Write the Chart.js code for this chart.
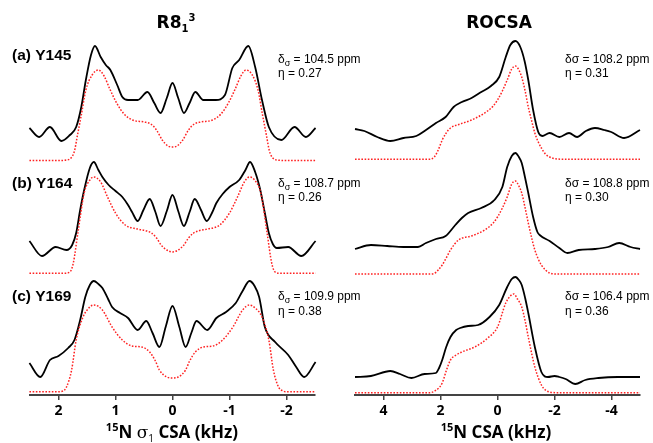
<!DOCTYPE html>
<html>
<head>
<meta charset="utf-8">
<script src="https://cdn.jsdelivr.net/npm/chart.js@4"></script>
<style>
  html, body { margin: 0; padding: 0; background: #fff; }
  #left { position: absolute; left: 0; top: 0; }
  #right { position: absolute; left: 330px; top: 0; }
</style>
</head>
<body>
<canvas id="left" width="400" height="443"></canvas>
<canvas id="right" width="323" height="443"></canvas>
<script>
// Labels and fitted parameters
const rowNames = ['(a) Y145', '(b) Y164', '(c) Y169'];
const r8Delta = [104.5, 108.7, 109.9];
const r8Eta = [0.27, 0.26, 0.38];
const rocsaDelta = [108.2, 108.8, 106.4];
const rocsaEta = [0.31, 0.30, 0.36];
const r8Ticks = [2, 1, 0, -1, -2];
const rocsaTicks = [4, 2, 0, -2, -4];

// Spectra as [kHz, intensity] - exp = black experimental, sim = red dotted fit
const r8ExpA = [[2.51,33],[2.34,24],[2.15,34],[1.95,20],[1.80,26],[1.69,34],[1.60,54],[1.52,81],[1.43,106],[1.36,115],[1.26,104],[1.17,96],[1.09,91],[0.97,76],[0.88,64],[0.78,61],[0.61,61],[0.44,69],[0.32,58],[0.21,48],[0.10,63],[0,78],[-0.10,63],[-0.20,48],[-0.30,58],[-0.40,69],[-0.54,61],[-0.76,61],[-0.92,66],[-1.05,93],[-1.17,101],[-1.33,115],[-1.45,94],[-1.57,61],[-1.69,34],[-1.91,21],[-2.14,34],[-2.34,24],[-2.51,33]];
const r8SimA = [[2.51,0.5],[2.0,0.5],[1.86,1],[1.78,3],[1.72,10],[1.67,25],[1.60,46],[1.52,71],[1.41,86],[1.30,91],[1.20,85],[1.10,72],[0.98,58],[0.85,47],[0.70,41],[0.50,39],[0.38,37],[0.28,31],[0.18,21],[0.08,15],[0,14],[-0.08,15],[-0.18,21],[-0.28,31],[-0.38,37],[-0.50,39],[-0.70,41],[-0.85,47],[-0.98,58],[-1.10,72],[-1.20,85],[-1.29,91],[-1.40,86],[-1.50,71],[-1.58,46],[-1.65,25],[-1.70,10],[-1.76,3],[-1.84,1],[-2.0,0.5],[-2.51,0.5]];
const r8ExpB = [[2.51,37],[2.29,22],[2.05,31],[1.86,28],[1.76,33],[1.69,45],[1.62,68],[1.55,88],[1.45,110],[1.38,116],[1.30,108],[1.23,101],[1.12,93],[1.00,87],[0.88,81],[0.78,73],[0.71,66],[0.61,57],[0.51,68],[0.40,79],[0.30,66],[0.21,52],[0.10,67],[0,83],[-0.10,67],[-0.20,52],[-0.30,66],[-0.39,79],[-0.50,68],[-0.60,57],[-0.70,66],[-0.77,75],[-0.88,84],[-1.00,91],[-1.17,98],[-1.28,108],[-1.36,116],[-1.45,106],[-1.54,88],[-1.62,65],[-1.69,45],[-1.76,34],[-1.83,30],[-2.03,31],[-2.26,22],[-2.51,37]];
const r8SimB = [[2.51,4.7],[1.90,4.7],[1.80,6],[1.74,15],[1.66,45],[1.55,85],[1.45,98],[1.38,101],[1.26,96],[1.14,81],[1.00,65],[0.83,53],[0.61,49],[0.45,47],[0.37,45],[0.28,40],[0.20,33],[0.10,28],[0,26],[-0.10,28],[-0.20,33],[-0.28,40],[-0.37,45],[-0.45,47],[-0.61,49],[-0.83,53],[-1.00,65],[-1.14,81],[-1.26,96],[-1.35,101],[-1.44,98],[-1.55,85],[-1.66,45],[-1.74,15],[-1.80,6],[-1.90,4.7],[-2.51,4.7]];
const r8ExpC = [[2.51,32],[2.32,18],[2.15,35],[2.00,39],[1.83,47],[1.72,55],[1.62,75],[1.53,98],[1.45,110],[1.38,114],[1.30,111],[1.23,107],[1.13,96],[1.06,88],[0.92,82],[0.78,77],[0.61,65],[0.46,74],[0.35,62],[0.23,48],[0.12,68],[0,89],[-0.12,68],[-0.23,48],[-0.33,62],[-0.42,74],[-0.61,65],[-0.77,77],[-0.94,83],[-1.11,92],[-1.23,104],[-1.35,114],[-1.44,109],[-1.52,98],[-1.62,68],[-1.80,53],[-2.03,40],[-2.17,28],[-2.31,18],[-2.51,33]];
const r8SimC = [[2.51,3.3],[2.0,3.3],[1.92,4],[1.86,8],[1.77,25],[1.69,55],[1.57,78],[1.45,88],[1.38,90],[1.23,85],[1.06,68],[0.88,55],[0.71,49],[0.54,48],[0.40,43],[0.30,34],[0.23,25],[0.10,18],[0,17],[-0.10,18],[-0.23,25],[-0.30,34],[-0.40,43],[-0.54,48],[-0.71,49],[-0.88,55],[-1.06,68],[-1.23,85],[-1.35,90],[-1.45,87],[-1.57,78],[-1.69,55],[-1.77,25],[-1.86,8],[-1.94,4],[-2.0,3.3],[-2.51,3.3]];

const rocsaExpA = [[5.0,32],[4.67,30],[4.22,24],[3.76,20],[3.3,23],[2.85,25],[2.51,31],[2.16,38],[1.82,44],[1.54,54],[1.25,59],[0.91,63],[0.57,69],[0.23,75],[-0.06,84],[-0.29,104],[-0.45,116],[-0.63,120],[-0.80,114],[-0.95,100],[-1.08,81],[-1.25,51],[-1.43,29],[-1.57,25],[-1.83,28],[-2.17,24],[-2.51,28],[-2.79,24],[-3.1,30],[-3.42,33],[-3.75,31],[-3.99,29],[-4.44,23],[-5.0,31]];
const rocsaSimA = [[5.0,1.7],[2.40,1.7],[2.22,4],[2.08,11],[1.94,21],[1.80,28],[1.65,33],[1.31,37],[0.91,41],[0.45,48],[0.15,55],[0,61],[-0.17,70],[-0.34,81],[-0.50,92],[-0.63,95],[-0.75,91],[-0.85,84],[-0.97,70],[-1.08,54],[-1.20,40],[-1.31,28],[-1.43,19],[-1.54,13],[-1.68,7],[-1.83,4],[-2.1,2],[-2.4,1.7],[-5.0,1.7]];
const rocsaExpB = [[5.0,29],[4.44,33],[3.87,32],[3.30,31],[2.79,31],[2.51,35],[2.16,39],[1.82,42],[1.48,53],[1.25,60],[1.03,65],[0.57,70],[0.11,78],[-0.17,91],[-0.34,111],[-0.50,122],[-0.63,125],[-0.75,121],[-0.85,115],[-0.97,100],[-1.08,85],[-1.25,61],[-1.40,46],[-1.48,43],[-1.83,37],[-2.17,30],[-2.45,25],[-2.85,28],[-3.42,29],[-3.88,31],[-4.27,35],[-4.67,31],[-5.0,29]];
const rocsaSimB = [[5.0,4],[2.40,4],[2.23,4.5],[2.08,8],[1.94,13],[1.80,20],[1.65,28],[1.37,38],[0.91,42],[0.45,48],[0.15,55],[0,61],[-0.17,70],[-0.34,81],[-0.50,94],[-0.63,97],[-0.75,92],[-0.85,85],[-0.97,70],[-1.08,55],[-1.20,40],[-1.31,28],[-1.43,19],[-1.54,13],[-1.68,8],[-1.83,5],[-2.1,4],[-5.0,4]];
const rocsaExpC = [[5.0,18],[4.44,19],[3.76,24],[3.42,21],[3.02,17],[2.56,21],[2.16,22],[2.05,27],[1.94,35],[1.80,48],[1.65,58],[1.45,65],[1.31,67],[1.03,69],[0.68,70],[0.28,78],[-0.06,90],[-0.34,108],[-0.50,116],[-0.63,118],[-0.75,115],[-0.85,110],[-0.97,97],[-1.08,82],[-1.31,48],[-1.54,23],[-1.77,18],[-2.0,19],[-2.17,18],[-2.39,16],[-2.73,11],[-3.08,15],[-3.54,17],[-4.22,18],[-5.0,18]];
const rocsaSimC = [[5.0,2.3],[2.40,2.3],[2.2,4],[1.94,12],[1.80,24],[1.65,35],[1.45,40],[1.25,43],[0.80,48],[0.34,57],[0,68],[-0.29,92],[-0.45,99],[-0.57,101],[-0.70,96],[-0.85,88],[-0.97,74],[-1.08,58],[-1.31,28],[-1.54,10],[-1.68,5],[-1.83,3],[-2.1,2.3],[-5.0,2.3]];

// stacked left axes are laid out last-declared on top, so declare bottom row first
const rowAxes = ['yc', 'yb', 'ya'];

function spectrum(points, axis, exp) {
  return {
    data: points.map(p => ({ x: p[0], y: p[1] })),
    yAxisID: axis,
    borderColor: exp ? '#000' : '#f22',
    borderWidth: exp ? 1.8 : 1.5,
    borderDash: exp ? [] : [1.6, 1.6],
    pointRadius: 0,
    cubicInterpolationMode: 'monotone',
    clip: false,
    fill: false
  };
}

// draws a list of text runs, left aligned or centred on x
function drawRuns(ctx, runs, x, y, align) {
  let w = 0;
  runs.forEach(r => { ctx.font = r.f; w += ctx.measureText(r.t).width; });
  let cx = align === 'center' ? x - w / 2 : x;
  ctx.textAlign = 'left';
  ctx.textBaseline = 'alphabetic';
  runs.forEach(r => {
    ctx.font = r.f;
    ctx.fillText(r.t, cx, y + (r.dy || 0));
    cx += ctx.measureText(r.t).width;
  });
}

const deltaY = [63, 187, 300];
const etaY = [77, 201, 315];
const nameY = [56, 184, 297];
const annFont = '12px "Liberation Sans", Arial, sans-serif';
const annSub = '9px "Liberation Sans", Arial, sans-serif';

function makeConfig(series, ticks, range, pad, textFn) {
  const scales = {
    x: {
      type: 'linear', min: -range, max: range, reverse: true,
      afterBuildTicks: s => { s.ticks = ticks.map(v => ({ value: v })); },
      afterFit: s => { s.height = 48; },
      ticks: { color: '#000', autoSkip: false, maxRotation: 0, padding: 3,
        font: { family: 'Open Sans', size: 14, weight: 'bold' },
        callback: v => String(v) },
      grid: { display: true, drawOnChartArea: false, drawTicks: true, tickLength: 5, color: '#444', lineWidth: 1.5 },
      border: { display: true, color: '#444', width: 2 }
    }
  };
  rowAxes.forEach(id => {
    scales[id] = { type: 'linear', position: 'left', stack: 'rows', stackWeight: 1, min: 0, max: 117,
      grid: { display: false }, ticks: { display: false }, border: { display: false } };
  });
  return {
    type: 'line',
    data: { datasets: series },
    options: {
      responsive: false,
      animation: false,
      layout: { padding: pad },
      plugins: { legend: { display: false }, tooltip: { enabled: false } },
      scales: scales
    },
    plugins: [{ id: 'panelText', afterDraw(chart) {
      const ctx = chart.ctx;
      ctx.save();
      ctx.fillStyle = '#000';
      textFn(ctx);
      ctx.restore();
    } }]
  };
}

window.addEventListener('DOMContentLoaded', () => {
  const r8Series = [
    spectrum(r8SimA, 'ya', false), spectrum(r8ExpA, 'ya', true),
    spectrum(r8SimB, 'yb', false), spectrum(r8ExpB, 'yb', true),
    spectrum(r8SimC, 'yc', false), spectrum(r8ExpC, 'yc', true)
  ];
  const rocsaSeries = [
    spectrum(rocsaSimA, 'ya', false), spectrum(rocsaExpA, 'ya', true),
    spectrum(rocsaSimB, 'yb', false), spectrum(rocsaExpB, 'yb', true),
    spectrum(rocsaSimC, 'yc', false), spectrum(rocsaExpC, 'yc', true)
  ];

  // left canvas is wider than its plot so the annotations can run past x=330
  new Chart(document.getElementById('left'), makeConfig(r8Series, r8Ticks, 2.5,
    { left: 22, right: 85, top: 44, bottom: 0 }, ctx => {
      drawRuns(ctx, [
        { t: 'R8', f: 'bold 17px "DejaVu Sans"' },
        { t: '1', f: 'bold 10px "DejaVu Sans"', dy: 4 },
        { t: '3', f: 'bold 10px "DejaVu Sans"', dy: -7 }
      ], 176, 28, 'center');
      rowNames.forEach((n, i) => {
        ctx.font = 'bold 15.5px "Liberation Sans", Arial, sans-serif';
        ctx.textAlign = 'left';
        ctx.textBaseline = 'middle';
        ctx.fillText(n, 12, nameY[i]);
        drawRuns(ctx, [
          { t: 'δ', f: annFont },
          { t: 'σ', f: annSub, dy: 3 },
          { t: ' = ' + r8Delta[i].toFixed(1) + ' ppm', f: annFont }
        ], 278, deltaY[i], 'left');
        drawRuns(ctx, [{ t: 'η = ' + r8Eta[i].toFixed(2), f: annFont }], 278, etaY[i], 'left');
      });
      drawRuns(ctx, [
        { t: '15', f: 'bold 11px "Open Sans"', dy: -7 },
        { t: 'N ', f: 'bold 17px "Open Sans"' },
        { t: 'σ', f: '17px "DejaVu Serif"' },
        { t: '1', f: '10px "Open Sans"', dy: 4 },
        { t: ' CSA (kHz)', f: 'bold 17px "Open Sans"' }
      ], 172, 438, 'center');
    }));

  new Chart(document.getElementById('right'), makeConfig(rocsaSeries, rocsaTicks, 5,
    { left: 17, right: 13, top: 44, bottom: 0 }, ctx => {
      drawRuns(ctx, [{ t: 'ROCSA', f: 'bold 17px "DejaVu Sans"' }], 169, 27.5, 'center');
      rocsaDelta.forEach((d, i) => {
        drawRuns(ctx, [{ t: 'δσ = ' + d.toFixed(1) + ' ppm', f: annFont }], 235, deltaY[i], 'left');
        drawRuns(ctx, [{ t: 'η = ' + rocsaEta[i].toFixed(2), f: annFont }], 235, etaY[i], 'left');
      });
      drawRuns(ctx, [
        { t: '15', f: 'bold 11px "Open Sans"', dy: -7 },
        { t: 'N CSA (kHz)', f: 'bold 17px "Open Sans"' }
      ], 166, 438, 'center');
    }));
});
</script>
</body>
</html>
